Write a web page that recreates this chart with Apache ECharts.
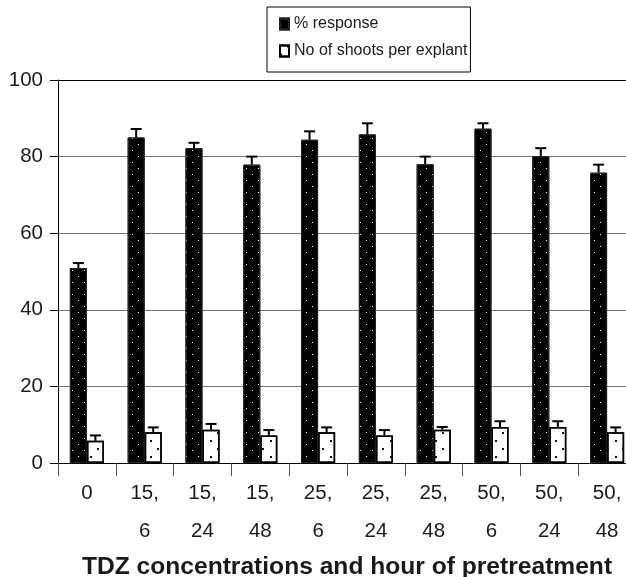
<!DOCTYPE html>
<html>
<head>
<meta charset="utf-8">
<script src="https://cdn.jsdelivr.net/npm/echarts@6/dist/echarts.min.js"></script>
<style>
html,body{margin:0;padding:0;background:#fff;overflow:hidden;width:626px;height:577px;}
#c{width:636px;height:577px;}
</style>
</head>
<body>
<div id="c"></div>
<script>
const categories = ['0', '15,\n6', '15,\n24', '15,\n48', '25,\n6', '25,\n24', '25,\n48', '50,\n6', '50,\n24', '50,\n48'];
const responseValues = [50.9, 85.0, 82.2, 77.9, 84.4, 85.8, 78.0, 87.3, 80.1, 75.8];
const responseErrors = [1.3, 2.2, 1.4, 2.1, 2.2, 2.9, 2.0, 1.4, 2.1, 2.1];
const shootValues = [5.8, 8.0, 8.7, 7.2, 8.0, 7.2, 8.7, 9.4, 9.4, 8.0];
const shootErrors = [1.4, 1.3, 1.5, 1.4, 1.3, 1.4, 0.7, 1.5, 1.5, 1.3];
const yTicks = [0, 20, 40, 60, 80, 100];
const seriesNames = ['% response', 'No of shoots per explant'];
const xTitle = 'TDZ concentrations and hour of pretreatment';

const FONT = 'Liberation Sans, Arial, Helvetica, sans-serif';
const CAT_GAP = 0.41;

function errorSeries(values, errors, side) {
  return {
    type: 'custom',
    z: 5,
    silent: true,
    data: values.map((v, i) => [i, v, v + errors[i]]),
    renderItem: function (params, api) {
      const i = api.value(0);
      const band = api.size([1, 0])[0];
      const barW = band * (1 - CAT_GAP) / 2;
      const base = api.coord([i, api.value(1)]);
      const top = api.coord([i, api.value(2)]);
      const x = base[0] + side * barW / 2;
      const half = 5.5;
      const style = { stroke: '#000', lineWidth: 2 };
      return {
        type: 'group',
        children: [
          { type: 'line', shape: { x1: x, y1: base[1], x2: x, y2: top[1] }, style: style },
          { type: 'line', shape: { x1: x - half, y1: top[1], x2: x + half, y2: top[1] }, style: style }
        ]
      };
    }
  };
}

const chart = echarts.init(document.getElementById('c'), null, { renderer: 'canvas' });
chart.setOption({
  animation: false,
  backgroundColor: '#fff',
  textStyle: { fontFamily: FONT },
  legend: {
    data: seriesNames,
    orient: 'vertical',
    left: 267,
    top: 7,
    padding: [9, 3, 13, 12],
    borderColor: '#000',
    borderWidth: 1,
    itemWidth: 9,
    itemHeight: 11,
    itemGap: 11,
    textStyle: { fontSize: 16, color: '#1a1a1a', lineHeight: 16, fontFamily: FONT },
    icon: 'rect'
  },
  grid: { left: 58, right: 0, top: 80, bottom: 114, containLabel: false, outerBoundsMode: 'none' },
  xAxis: {
    type: 'category',
    data: categories,
    axisLine: { show: true, lineStyle: { color: '#000', width: 1 } },
    axisTick: { show: true, length: 13, interval: 0, lineStyle: { color: '#555' } },
    axisLabel: { interval: 0, fontSize: 20.5, lineHeight: 38, margin: 11, color: '#1a1a1a', fontFamily: FONT },
    name: xTitle,
    nameLocation: 'middle',
    nameGap: 87,
    nameTextStyle: { fontSize: 24.6, fontWeight: 'bold', color: '#1a1a1a', fontFamily: FONT }
  },
  yAxis: {
    type: 'value',
    min: yTicks[0],
    max: yTicks[yTicks.length - 1],
    interval: 20,
    axisLine: { show: true, lineStyle: { color: '#000', width: 1 } },
    axisTick: { show: true, length: 8, lineStyle: { color: '#000' } },
    axisLabel: { fontSize: 20.5, margin: 15, color: '#1a1a1a', fontFamily: FONT },
    splitLine: { show: true, lineStyle: { color: ['#777', '#777', '#777', '#777', '#777', '#000'], width: 1 } }
  },
  series: [
    {
      name: seriesNames[0],
      type: 'bar',
      data: responseValues,
      barGap: '0%',
      barCategoryGap: (CAT_GAP * 100) + '%',
      itemStyle: {
        color: '#000',
        borderColor: '#222',
        borderWidth: 1,
        decal: {
          symbol: 'rect',
          symbolSize: 1,
          color: '#fff',
          dashArrayX: [[1, 11], [0, 6, 1, 5]],
          dashArrayY: [1, 5]
        }
      }
    },
    {
      name: seriesNames[1],
      type: 'bar',
      data: shootValues,
      barGap: '0%',
      barCategoryGap: (CAT_GAP * 100) + '%',
      itemStyle: {
        color: '#fff',
        borderColor: '#000',
        borderWidth: 1.5,
        decal: {
          symbol: 'rect',
          symbolSize: 1,
          color: '#111',
          dashArrayX: [[1.4, 12.6], [0, 7, 1.4, 5.6]],
          dashArrayY: [1.4, 5.3]
        }
      }
    },
    errorSeries(responseValues, responseErrors, -1),
    errorSeries(shootValues, shootErrors, 1)
  ]
});
</script>
</body>
</html>
